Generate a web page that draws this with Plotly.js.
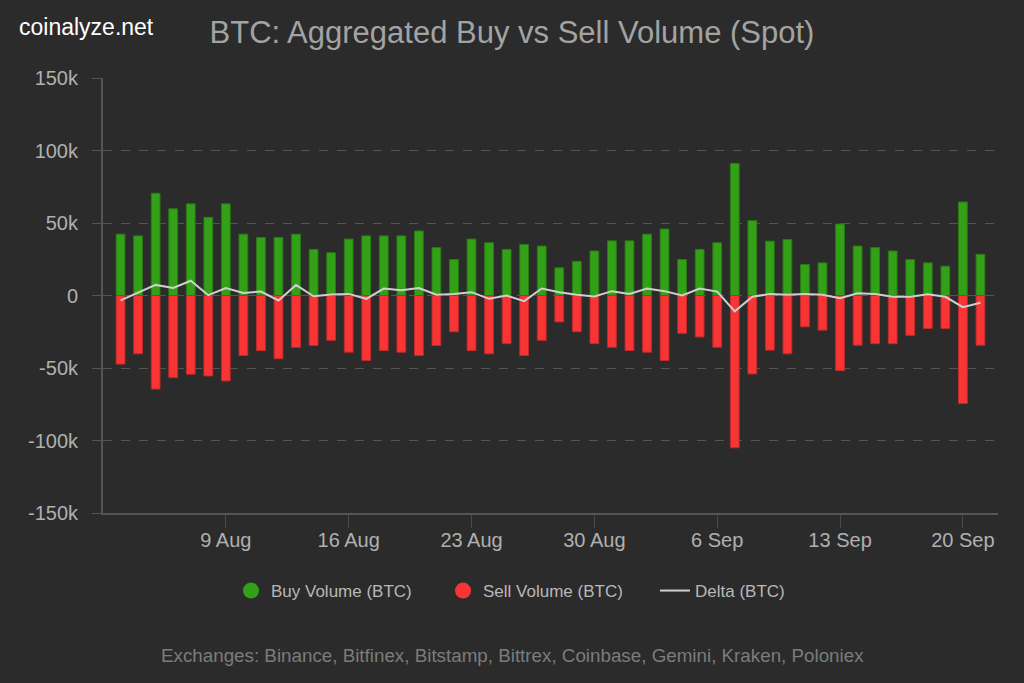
<!DOCTYPE html>
<html>
<head>
<meta charset="utf-8">
<script src="https://cdn.plot.ly/plotly-3.0.1.min.js"></script>
<style>
html,body{margin:0;padding:0;background:#2b2b2b;}
#chart{width:1024px;height:683px;}
</style>
</head>
<body>
<div id="chart"></div>
<script>
const dates = [
  '2021-08-03','2021-08-04','2021-08-05','2021-08-06','2021-08-07','2021-08-08','2021-08-09',
  '2021-08-10','2021-08-11','2021-08-12','2021-08-13','2021-08-14','2021-08-15','2021-08-16',
  '2021-08-17','2021-08-18','2021-08-19','2021-08-20','2021-08-21','2021-08-22','2021-08-23',
  '2021-08-24','2021-08-25','2021-08-26','2021-08-27','2021-08-28','2021-08-29','2021-08-30',
  '2021-08-31','2021-09-01','2021-09-02','2021-09-03','2021-09-04','2021-09-05','2021-09-06',
  '2021-09-07','2021-09-08','2021-09-09','2021-09-10','2021-09-11','2021-09-12','2021-09-13',
  '2021-09-14','2021-09-15','2021-09-16','2021-09-17','2021-09-18','2021-09-19','2021-09-20',
  '2021-09-21'
];
const buyVolume = [
  42300, 41100, 70500, 59800, 63200, 53900, 63200,
  42300, 40000, 40000, 42300, 31800, 29500, 38900,
  41100, 41100, 41100, 44500, 33000, 24800, 38900,
  36400, 31800, 35200, 34100, 19100, 23600, 30700,
  37700, 37700, 42300, 45900, 24800, 31800, 36400,
  91100, 51600, 37500, 38600, 21400, 22500, 49300,
  34100, 33000, 30700, 24800, 22500, 20200, 64500,
  28400
];
const sellVolume = [
  -47300, -40200, -64500, -56600, -54300, -55500, -58900,
  -41400, -38000, -43600, -35700, -34500, -30900, -39100,
  -44800, -38000, -39100, -41400, -34500, -25000, -38000,
  -40200, -33200, -41400, -30900, -18200, -25000, -33200,
  -35700, -38000, -39100, -44800, -26100, -28600, -35700,
  -105000, -54100, -37700, -40200, -21600, -23900, -51800,
  -34300, -33200, -33200, -27500, -22700, -22700, -74500,
  -34300
];
const deltaVolume = [
  -3400, 2000, 7300, 5200, 10200, 200, 5200,
  1800, 2700, -3400, 7300, -500, 700, 1100,
  -2300, 4800, 3600, 5200, 500, 1100, 2300,
  -2300, 0, -3900, 4800, 2300, 500, -700,
  3000, 1100, 4800, 3000, 0, 4800, 2700,
  -10900, -900, 1100, 500, 1100, 500, -1800,
  1600, 1100, -900, -900, 900, -900, -8000,
  -5000
];
const yTickVals = [-150000, -100000, -50000, 0, 50000, 100000, 150000];
const yTickText = ['-150k', '-100k', '-50k', '0', '50k', '100k', '150k'];
const xTickVals = ['2021-08-09','2021-08-16','2021-08-23','2021-08-30','2021-09-06','2021-09-13','2021-09-20'];
const xTickText = ['9 Aug','16 Aug','23 Aug','30 Aug','6 Sep','13 Sep','20 Sep'];

const GREEN = '#33a117';
const RED = '#f83434';
const DAY = 86400000;
const FONT = 'Arial, "Liberation Sans", sans-serif';

const traces = [
  {type:'bar', x:dates, y:buyVolume, name:'Buy Volume (BTC)', width:DAY*0.5,
   marker:{color:GREEN, line:{color:'#2a7a14', width:1}}, showlegend:false, hoverinfo:'x+y'},
  {type:'bar', x:dates, y:sellVolume, name:'Sell Volume (BTC)', width:DAY*0.5,
   marker:{color:RED, line:{color:'#c02a2a', width:1}}, showlegend:false, hoverinfo:'x+y'},
  {type:'scatter', mode:'markers', x:[null], y:[null], name:'Buy Volume (BTC)',
   marker:{color:GREEN, size:17, symbol:'circle'}, showlegend:true},
  {type:'scatter', mode:'markers', x:[null], y:[null], name:'Sell Volume (BTC)',
   marker:{color:RED, size:17, symbol:'circle'}, showlegend:true},
  {type:'scatter', mode:'lines', x:dates, y:deltaVolume, name:'Delta (BTC)',
   line:{color:'#cfcfcf', width:2}, showlegend:true}
];

const layout = {
  width:1024, height:683,
  paper_bgcolor:'#2b2b2b', plot_bgcolor:'#2b2b2b',
  margin:{l:103, r:26, t:78, b:170},
  barmode:'relative',
  font:{family:FONT, color:'#a8a8a8'},
  title:{text:'BTC: Aggregated Buy vs Sell Volume (Spot)', x:0.5, xref:'container', xanchor:'center',
         y:1-32/683, yref:'container', yanchor:'middle',
         font:{family:FONT, size:31, color:'#a3a3a3'}},
  xaxis:{
    type:'date', range:['2021-08-02','2021-09-22'],
    tickvals:xTickVals, ticktext:xTickText,
    ticks:'outside', ticklen:13, tickcolor:'#4a4a4a', tickwidth:1,
    ticklabelstandoff:-5,
    showgrid:false, zeroline:false,
    showline:true, linecolor:'#555555', linewidth:2,
    tickfont:{family:FONT, size:20, color:'#b0b0b0'}
  },
  yaxis:{
    range:[-150000,150000],
    tickvals:yTickVals, ticktext:yTickText,
    ticks:'outside', ticklen:9, tickcolor:'#555555',
    showgrid:true, gridcolor:'#555555', griddash:'dash', gridwidth:1,
    zeroline:false,
    showline:true, linecolor:'#555555', linewidth:2,
    ticklabelstandoff:10,
    tickfont:{family:FONT, size:20, color:'#b0b0b0'}
  },
  legend:{
    orientation:'h', xref:'container', x:(251-20)/1024, xanchor:'left',
    yref:'container', y:1-591/683, yanchor:'middle',
    entrywidth:167, entrywidthmode:'pixels',
    font:{family:FONT, size:17, color:'#b8b8b8'},
    bgcolor:'rgba(0,0,0,0)', traceorder:'normal', itemclick:false
  },
  annotations:[
    {text:'coinalyze.net', xref:'paper', yref:'paper', x:(17-103)/895, y:(683-170-27)/435,
     xanchor:'left', yanchor:'middle', showarrow:false,
     font:{family:FONT, size:23, color:'#ffffff'}},
    {text:'Exchanges: Binance, Bitfinex, Bitstamp, Bittrex, Coinbase, Gemini, Kraken, Poloniex',
     xref:'paper', yref:'paper', x:(512-103)/895, y:(683-170-655)/435,
     xanchor:'center', yanchor:'middle', showarrow:false,
     font:{family:FONT, size:18.8, color:'#7c7c7c'}}
  ],
  hovermode:false
};

Plotly.newPlot('chart', traces, layout, {displayModeBar:false, staticPlot:true});
</script>
</body>
</html>
